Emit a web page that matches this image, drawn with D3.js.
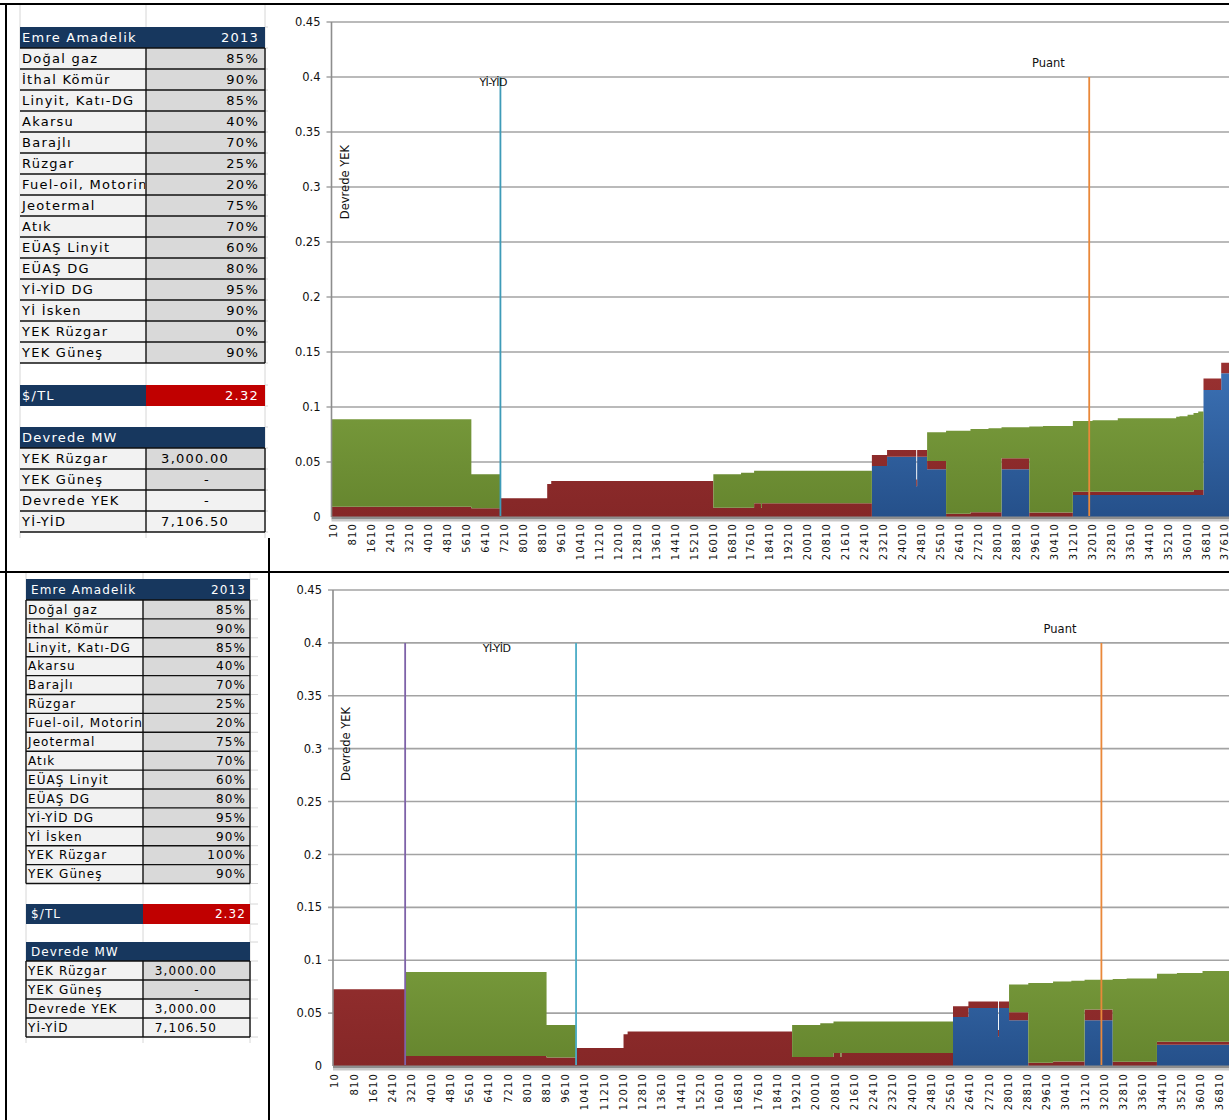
<!DOCTYPE html>
<html>
<head>
<meta charset="utf-8">
<script src="https://cdn.jsdelivr.net/npm/d3@7"></script>
<style>
  body { margin: 0; background: #fff; }
  svg { display: block; }
</style>
</head>
<body>
<svg id="page" width="1229" height="1120"></svg>
<script>
// ---------------- sheet values ----------------
const tableTitle = "Emre Amadelik";
const tableYear = "2013";
const availabilityLabels = ["Doğal gaz", "İthal Kömür", "Linyit, Katı-DG", "Akarsu", "Barajlı", "Rüzgar",
  "Fuel-oil, Motorin", "Jeotermal", "Atık", "EÜAŞ Linyit", "EÜAŞ DG", "Yİ-YİD DG", "Yİ İsken", "YEK Rüzgar", "YEK Güneş"];
const availabilityTop = [85, 90, 85, 40, 70, 25, 20, 75, 70, 60, 80, 95, 90, 0, 90];
const availabilityBottom = [85, 90, 85, 40, 70, 25, 20, 75, 70, 60, 80, 95, 90, 100, 90];
const usdTry = 2.32;
const capacityLabels = ["YEK Rüzgar", "YEK Güneş", "Devrede YEK", "Yİ-YİD"];
const capacityTop = [3000, 0, 0, 7106.5];
const capacityBottom = [3000, 0, 3000, 7106.5];

// ---------------- supply stack ($/kWh per MW band) ----------------
// start of each band in cumulative MW, and the three stacked cost layers
const stackMW = [0, 5880, 7106.5, 9080, 9250, 16090, 17260, 17810, 18100, 18140,
  22780, 23420, 24650, 24690, 25110, 25910, 26940, 27700, 28250, 29420,
  30000, 31260, 32090, 33155, 35620, 35760, 36100, 36350, 36550, 36772, 37519];
const layerBlue = [0, 0, 0, 0, 0, 0, 0, 0, 0, 0,
  0.0464, 0.0548, 0.0280, 0.0548, 0.0433, 0, 0, 0, 0.0433, 0,
  0, 0.0200, 0.0200, 0.0200, 0.0200, 0.0200, 0.0200, 0.0200, 0.0200, 0.1155, 0.1306];
const layerRed = [0.0094, 0.0080, 0.0170, 0.0300, 0.0327, 0.0085, 0.0085, 0.0124, 0.0085, 0.0124,
  0.0100, 0.0061, 0.0061, 0.0061, 0.0076, 0.0030, 0.0043, 0.0043, 0.0100, 0.0040,
  0.0040, 0.0030, 0.0030, 0.0030, 0.0030, 0.0030, 0.0030, 0.0045, 0.0045, 0.0105, 0.0097];
const layerGreen = [0.0794, 0.0308, 0, 0, 0, 0.0303, 0.0318, 0.0296, 0.0335, 0.0296,
  0, 0, 0, 0, 0.0261, 0.0755, 0.0757, 0.0763, 0.0282, 0.0782,
  0.0787, 0.0643, 0.0650, 0.0667, 0.0682, 0.0685, 0.0700, 0.0700, 0.0715, 0, 0];
const yekWindCost = 0.0726;     // band placed ahead of the stack when YEK is online
const peakMW = 31950;           // Puant
const markerTop = 0.4;          // vertical marker lines run from 0 up to this value

// axis ticks
const yTicks = [0, 0.05, 0.1, 0.15, 0.2, 0.25, 0.3, 0.35, 0.4, 0.45];
const xTickFirst = 10, xTickStep = 800;

// annotation anchors (MW, value)
const noteYEK = { text: "Devrede YEK", mw: 550, v: 0.3045 };
const noteYiYid = { text: "Yİ-YİD", mw: 6800, v: 0.3955 };
const notePeak = { text: "Puant", mw: 30230, v: 0.413 };

// ---------------- styling ----------------
const NAVY = "#17375E", CELL_RED = "#C00000", CELL_LIGHT = "#F2F2F2", CELL_DARK = "#D9D9D9";
const FONT = "DejaVu Sans";
const W = 1229;
const svg = d3.select("#page");
const defs = svg.append("defs");

// ---------------- parameter table ----------------
function drawTable(g, t, availability, capacity, id) {
  const rowsTop = t.top + t.headH;
  const rowsEnd = rowsTop + availability.length * t.rowH;
  const usdTop = rowsEnd + t.gapA;
  const mwTop = usdTop + t.usdH + t.gapB;
  const mwRowsTop = mwTop + t.mwHeadH;
  const mwEnd = mwRowsTop + capacity.length * t.mwRowH;

  // faint worksheet grid
  const grid = g.append("g").attr("stroke", "#d6d6d6").attr("stroke-width", 1);
  [t.x0, t.xs, t.x1].forEach(x => grid.append("line")
    .attr("x1", x).attr("x2", x).attr("y1", t.gridTop).attr("y2", t.gridBottom));
  const stubYs = [t.top, rowsTop, ...d3.range(1, availability.length + 1).map(i => rowsTop + i * t.rowH),
    usdTop, usdTop + t.usdH, mwTop, mwRowsTop, ...d3.range(1, capacity.length + 1).map(i => mwRowsTop + i * t.mwRowH)];
  stubYs.forEach(y => grid.append("line").attr("x1", t.x1).attr("x2", t.stubEnd).attr("y1", y).attr("y2", y));

  const txt = (x, y, s, anchor, fill) => g.append("text")
    .attr("x", x).attr("y", y).attr("text-anchor", anchor || "start")
    .attr("font-family", FONT).attr("font-size", t.fs).attr("letter-spacing", t.ls)
    .attr("fill", fill || "#000").text(s);

  const clipId = "labelclip-" + id;
  defs.append("clipPath").attr("id", clipId).append("rect")
    .attr("x", t.x0).attr("y", t.top).attr("width", t.xs - t.x0 - 1).attr("height", mwEnd - t.top);

  // header
  g.append("rect").attr("x", t.x0).attr("y", t.top).attr("width", t.x1 - t.x0).attr("height", t.headH).attr("fill", NAVY);
  txt(t.x0 + t.headPad, t.top + t.headH / 2 + t.fs * 0.36, tableTitle, "start", "#fff");
  txt(t.x1 - t.valPad, t.top + t.headH / 2 + t.fs * 0.36, tableYear, "end", "#fff");

  // availability rows
  availability.forEach((v, i) => {
    const y = rowsTop + i * t.rowH;
    g.append("rect").attr("x", t.x0).attr("y", y).attr("width", t.xs - t.x0).attr("height", t.rowH).attr("fill", CELL_LIGHT);
    g.append("rect").attr("x", t.xs).attr("y", y).attr("width", t.x1 - t.xs).attr("height", t.rowH).attr("fill", CELL_DARK);
    txt(t.x0 + t.labelPad, y + t.rowH / 2 + t.fs * 0.36, availabilityLabels[i]).attr("clip-path", `url(#${clipId})`);
    txt(t.x1 - t.valPad, y + t.rowH / 2 + t.fs * 0.36, v + "%", "end");
  });

  // $/TL row
  g.append("rect").attr("x", t.x0).attr("y", usdTop).attr("width", t.xs - t.x0).attr("height", t.usdH).attr("fill", NAVY);
  g.append("rect").attr("x", t.xs).attr("y", usdTop).attr("width", t.x1 - t.xs).attr("height", t.usdH).attr("fill", CELL_RED);
  txt(t.x0 + t.headPad, usdTop + t.usdH / 2 + t.fs * 0.36, "$/TL", "start", "#fff");
  txt(t.x1 - t.valPad, usdTop + t.usdH / 2 + t.fs * 0.36, usdTry.toFixed(2), "end", "#fff");

  // Devrede MW block
  g.append("rect").attr("x", t.x0).attr("y", mwTop).attr("width", t.x1 - t.x0).attr("height", t.mwHeadH).attr("fill", NAVY);
  txt(t.x0 + t.headPad, mwTop + t.mwHeadH / 2 + t.fs * 0.36, "Devrede MW", "start", "#fff");
  capacity.forEach((v, j) => {
    const y = mwRowsTop + j * t.mwRowH;
    g.append("rect").attr("x", t.x0).attr("y", y).attr("width", t.xs - t.x0).attr("height", t.mwRowH).attr("fill", CELL_LIGHT);
    g.append("rect").attr("x", t.xs).attr("y", y).attr("width", t.x1 - t.xs).attr("height", t.mwRowH)
      .attr("fill", j < 2 ? CELL_DARK : CELL_LIGHT);
    txt(t.x0 + t.labelPad, y + t.mwRowH / 2 + t.fs * 0.36, capacityLabels[j]);
    if (v === 0) txt(t.dashX, y + t.mwRowH / 2 + t.fs * 0.36, "-", "middle");
    else txt(t.x1 - t.accPad, y + t.mwRowH / 2 + t.fs * 0.36, d3.format(",.2f")(v), "end");
  });

  // cell borders
  const b = g.append("g").attr("stroke", "#111").attr("stroke-width", 1.4).attr("fill", "none");
  const hLine = y => b.append("line").attr("x1", t.x0).attr("x2", t.x1).attr("y1", y).attr("y2", y);
  const vLine = (x, y1, y2) => b.append("line").attr("x1", x).attr("x2", x).attr("y1", y1).attr("y2", y2);
  d3.range(0, availability.length + 1).forEach(i => hLine(rowsTop + i * t.rowH));
  d3.range(0, capacity.length + 1).forEach(j => hLine(mwRowsTop + j * t.mwRowH));
  [t.xs, t.x1].concat(t.leftBorder ? [t.x0] : []).forEach(x => {
    vLine(x, rowsTop, rowsEnd);
    vLine(x, mwRowsTop, mwEnd);
  });
}

// ---------------- merit-order chart ----------------
function drawChart(g, c, capacity, id) {
  const devredeYEK = capacity[2];
  const yiyid = capacity[3];
  const xMax = (W - c.x0) / c.k;
  const x = d3.scaleLinear().domain([0, xMax]).range([c.x0, W]);
  const y = d3.scaleLinear().domain([0, 0.45]).range([c.yZero, c.yTop]);

  // rows for stacking
  const rows = [];
  if (devredeYEK > 0) rows.push({ mw: 0, blue: 0, red: yekWindCost, green: 0 });
  stackMW.forEach((m, i) => rows.push({ mw: m + devredeYEK, blue: layerBlue[i], red: layerRed[i], green: layerGreen[i] }));
  const last = rows[rows.length - 1];
  rows.push(Object.assign({}, last, { mw: xMax }));

  // gradients
  const grads = { blue: ["#3C72B6", "#25508A"], red: ["#993131", "#852727"], green: ["#7EA140", "#65852E"] };
  Object.entries(grads).forEach(([k, [c1, c2]]) => {
    const lg = defs.append("linearGradient").attr("id", `g-${id}-${k}`)
      .attr("gradientUnits", "userSpaceOnUse").attr("x1", 0).attr("x2", 0)
      .attr("y1", y(0.14)).attr("y2", y(0));
    lg.append("stop").attr("offset", 0).attr("stop-color", c1);
    lg.append("stop").attr("offset", 1).attr("stop-color", c2);
  });

  // gridlines
  g.append("g").selectAll("line").data(yTicks.filter(v => v > 0)).join("line")
    .attr("x1", c.axisX - 5).attr("x2", W).attr("y1", d => y(d)).attr("y2", d => y(d))
    .attr("stroke", "#a3a3a3").attr("stroke-width", 1.6);

  // stacked areas
  const clipId = "plotclip-" + id;
  defs.append("clipPath").attr("id", clipId).append("rect")
    .attr("x", c.x0).attr("y", c.yTop - 5).attr("width", W - c.x0).attr("height", c.yZero - c.yTop + 5);
  const series = d3.stack().keys(["blue", "red", "green"])(rows);
  const area = d3.area().curve(d3.curveStepAfter)
    .x(d => x(d.data.mw)).y0(d => y(d[0])).y1(d => y(d[1]));
  g.append("g").attr("clip-path", `url(#${clipId})`).selectAll("path").data(series).join("path")
    .attr("d", area).attr("fill", d => `url(#g-${id}-${d.key})`);

  // axis floor
  g.append("rect").attr("x", c.axisX).attr("y", c.yZero - 0.5).attr("width", W - c.axisX).attr("height", 3).attr("fill", "#8d8d8d");
  g.append("rect").attr("x", c.axisX).attr("y", c.yZero + 2.5).attr("width", W - c.axisX).attr("height", 2).attr("fill", "#c9c9c9");
  // value axis line
  g.append("line").attr("x1", c.axisX).attr("x2", c.axisX).attr("y1", c.yTop).attr("y2", c.yZero)
    .attr("stroke", "#8d8d8d").attr("stroke-width", 1.6);

  // marker lines
  const markers = [];
  if (devredeYEK > 0) markers.push({ mw: devredeYEK, color: "#7E62A8" });
  markers.push({ mw: devredeYEK + yiyid, color: c.yiyidColor });
  markers.push({ mw: peakMW, color: "#E9883A" });
  g.append("g").selectAll("line").data(markers).join("line")
    .attr("x1", d => x(d.mw)).attr("x2", d => x(d.mw))
    .attr("y1", y(markerTop)).attr("y2", c.yZero - 1)
    .attr("stroke", d => d.color).attr("stroke-width", 1.8);

  // y tick labels
  g.append("g").selectAll("text").data(yTicks).join("text")
    .attr("x", c.axisX - 11).attr("y", d => y(d)).attr("dy", "0.36em")
    .attr("text-anchor", "end").attr("font-family", FONT).attr("font-size", 11.5)
    .attr("fill", "#111").text(d => String(+d.toFixed(2)));

  // x tick labels
  const xTicks = d3.range(xTickFirst, xMax, xTickStep).filter(v => x(v) + 2 <= W - 3);
  g.append("g").selectAll("text").data(xTicks).join("text")
    .attr("transform", d => `translate(${x(d) + c.xLabelShift},${c.yZero + c.xLabelGap}) rotate(-90)`)
    .attr("dy", "0.36em").attr("text-anchor", "end")
    .attr("font-family", FONT).attr("font-size", 10).attr("letter-spacing", 1.1)
    .attr("fill", "#111").text(d => d);

  // annotations
  const note = (n, rotate) => {
    const t = g.append("text").attr("font-family", FONT).attr("font-size", 11).attr("fill", "#111")
      .attr("text-anchor", "middle").attr("dy", "0.36em").text(n.text);
    if (rotate) t.attr("transform", `translate(${x(n.mw)},${y(n.v)}) rotate(-90)`);
    else t.attr("x", x(n.mw)).attr("y", y(n.v));
    return t;
  };
  note(noteYEK, true).attr("font-size", 11.5);
  note(noteYiYid, false).attr("letter-spacing", -0.6);
  note(notePeak, false).attr("font-size", 11.5);
}

// ---------------- layout ----------------
const topTable = { x0: 20, xs: 146, x1: 265, top: 27, headH: 21, rowH: 21, gapA: 22, usdH: 21, gapB: 21,
  mwHeadH: 21, mwRowH: 21, fs: 13, ls: 1.25, headPad: 2, labelPad: 2, valPad: 6, accPad: 36, dashX: 207,
  leftBorder: false, gridTop: 5, gridBottom: 538, stubEnd: 268 };
const bottomTable = { x0: 26, xs: 143, x1: 250, top: 579, headH: 21, rowH: 18.9, gapA: 20.5, usdH: 20, gapB: 18,
  mwHeadH: 19, mwRowH: 19, fs: 12, ls: 1.1, headPad: 5, labelPad: 2, valPad: 4, accPad: 33, dashX: 197,
  leftBorder: true, gridTop: 573, gridBottom: 1043, stubEnd: 258 };

const topChart = { x0: 332, k: 0.0237, axisX: 331.5, yTop: 22, yZero: 517, xLabelShift: 1.5, xLabelGap: 6, yiyidColor: "#3E9BB8" };
const bottomChart = { x0: 333, k: 0.02405, axisX: 333, yTop: 590, yZero: 1066, xLabelShift: 1.5, xLabelGap: 7, yiyidColor: "#4BACC6" };

drawChart(svg.append("g"), topChart, capacityTop, "a");
drawChart(svg.append("g"), bottomChart, capacityBottom, "b");
drawTable(svg.append("g"), topTable, availabilityTop, capacityTop, "a");
drawTable(svg.append("g"), bottomTable, availabilityBottom, capacityBottom, "b");

// frame rules between the two panels
const frame = svg.append("g").attr("stroke", "#000").attr("stroke-width", 2);
frame.append("line").attr("x1", 0).attr("x2", W).attr("y1", 4).attr("y2", 4);
frame.append("line").attr("x1", 6).attr("x2", 6).attr("y1", 4).attr("y2", 1120);
frame.append("line").attr("x1", 0).attr("x2", W).attr("y1", 572).attr("y2", 572);
frame.append("line").attr("x1", 269).attr("x2", 269).attr("y1", 538).attr("y2", 1120);
</script>
</body>
</html>
